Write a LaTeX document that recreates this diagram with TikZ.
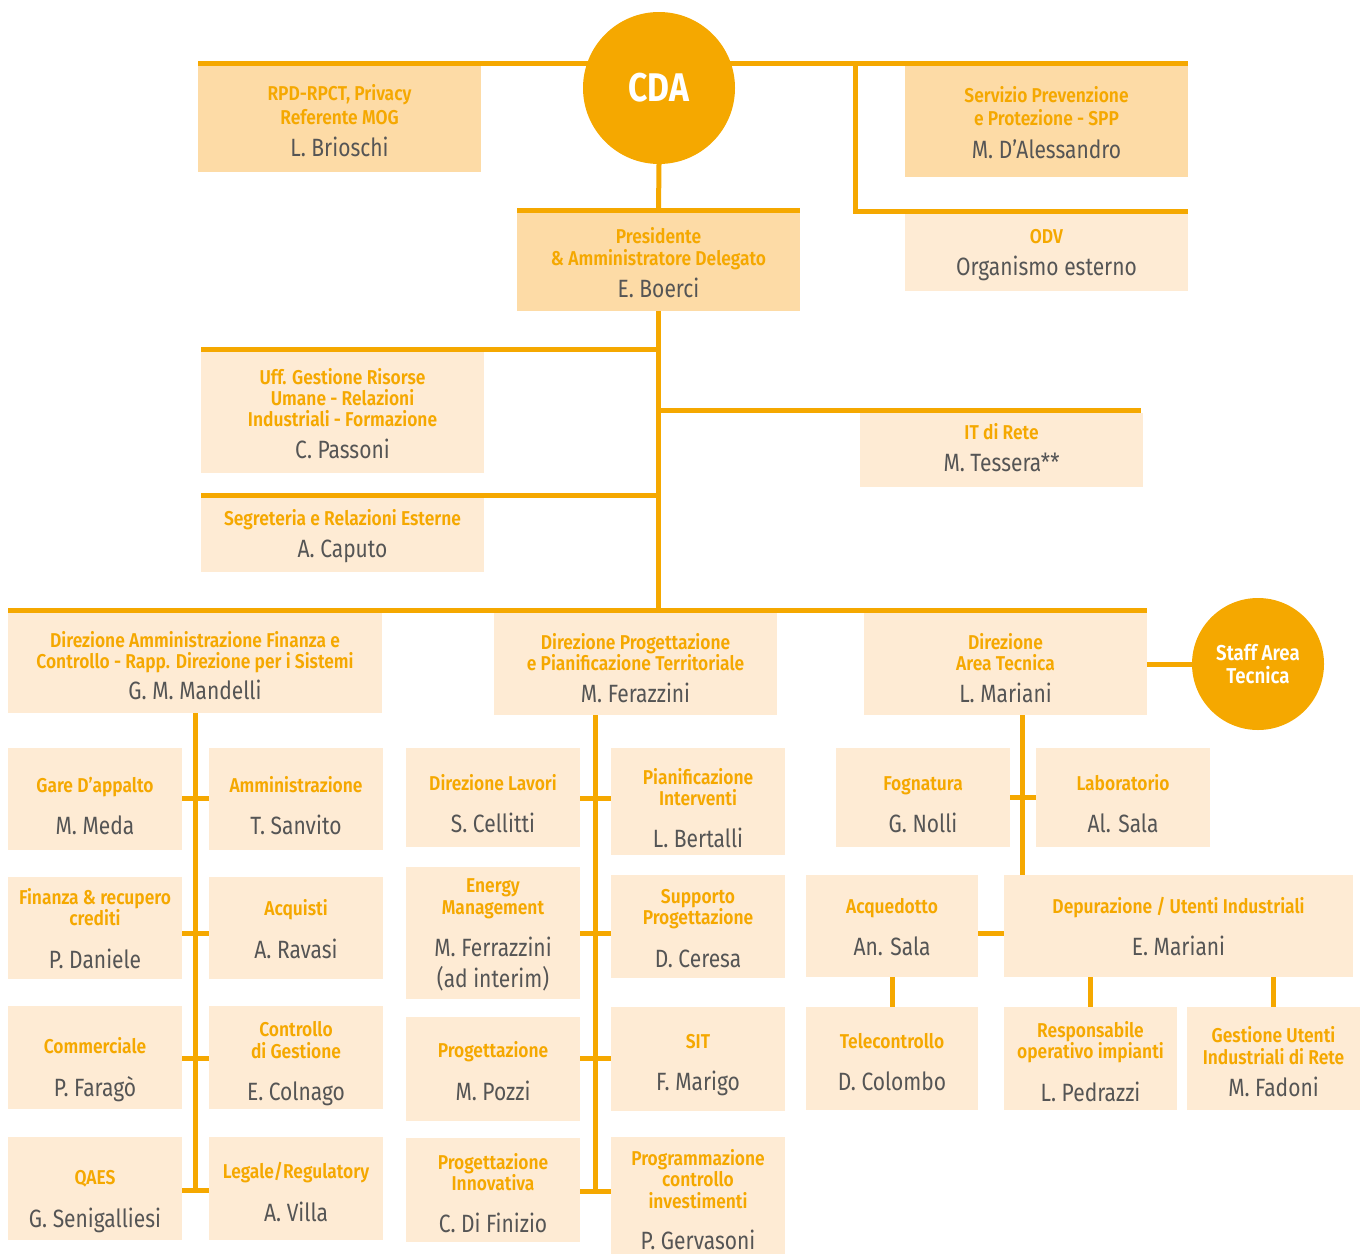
\documentclass[tikz,border=0pt]{standalone}
\usepackage{fontspec}
\setmainfont{Fira Sans}[FakeStretch=0.84]
\newfontfamily\tfont{Fira Sans SemiBold}[FakeStretch=0.87]
\usetikzlibrary{backgrounds}
\definecolor{org}{HTML}{F5A800}
\definecolor{dk}{HTML}{FDDBA6}
\definecolor{lt}{HTML}{FEEBD4}
\definecolor{gr}{HTML}{555555}
\tikzset{
  box/.style={rectangle, draw=none, inner sep=0pt, outer sep=0pt},
  conn/.style={draw=org, line width=5pt},
  ttl/.style={text=org, font=\tfont\fontsize{20}{22}\selectfont, inner sep=0pt, anchor=base},
  nme/.style={text=gr, font=\fontsize{25}{30}\selectfont, inner sep=0pt, anchor=base},
  circ/.style={circle, fill=org, inner sep=0pt, text=white, align=center}
}
\newcounter{tcnt}
\newcommand\T[3]{\stepcounter{tcnt}\node[ttl] (t\arabic{tcnt}) at (#1,-#2) {#3};}
\newcommand\N[3]{\stepcounter{tcnt}\node[nme] (t\arabic{tcnt}) at (#1,-#2) {#3};}
\newcommand\bx[6]{\node[box,fill=#6,minimum width={(#4-#2)*1pt},minimum height={(#5-#3)*1pt}] (#1) at ({(#2+#4)/2},{-(#3+#5)/2}) {};}
\begin{document}
\begin{tikzpicture}[x=1pt,y=1pt]
\useasboundingbox (0,0) rectangle (1365,-1253);
\clip (0,0) rectangle (1365,-1253);
% ---------- top ----------
\bx{rpd}{198}{66}{481}{172}{dk}
\T{339.5}{100}{RPD-RPCT, Privacy}
\T{339.5}{124}{Referente MOG}
\N{339.5}{156}{L. Brioschi}
\node[circ, minimum size=152pt, font=\bfseries\fontsize{40}{44}\selectfont] (cda) at (659,-88) {CDA};
\bx{spp}{905}{66}{1188}{177}{dk}
\T{1046.5}{102}{Servizio Prevenzione}
\T{1046.5}{125}{e Protezione - SPP}
\N{1046.5}{158}{M. D’Alessandro}
\bx{pres}{517}{213}{800}{311}{dk}
\T{658.5}{243}{Presidente}
\T{658.5}{265}{\& Amministratore Delegato}
\N{658.5}{297}{E. Boerci}
\bx{odv}{905}{214}{1188}{291}{lt}
\T{1046.5}{243}{ODV}
\N{1046.5}{275}{Organismo esterno}
\bx{uff}{201}{352}{484}{473}{lt}
\T{342.5}{384}{Uff. Gestione Risorse}
\T{342.5}{405}{Umane - Relazioni}
\T{342.5}{426}{Industriali - Formazione}
\N{342.5}{458}{C. Passoni}
\bx{it}{860}{413}{1143}{487}{lt}
\T{1001.5}{439}{IT di Rete}
\N{1001.5}{471}{M. Tessera**}
\bx{seg}{201}{498}{484}{572}{lt}
\T{342.5}{525}{Segreteria e Relazioni Esterne}
\N{342.5}{557}{A. Caputo}
% ---------- directions ----------
\bx{dirA}{8}{613}{382}{713}{lt}
\T{195}{647}{Direzione Amministrazione Finanza e}
\T{195}{668}{Controllo - Rapp. Direzione per i Sistemi}
\N{195}{699}{G. M. Mandelli}
\bx{dirB}{494}{613}{777}{715}{lt}
\T{635.5}{649}{Direzione Progettazione}
\T{635.5}{670}{e Pianificazione Territoriale}
\N{635.5}{702}{M. Ferazzini}
\bx{dirC}{864}{613}{1147}{715}{lt}
\T{1005.5}{649}{Direzione}
\T{1005.5}{670}{Area Tecnica}
\N{1005.5}{702}{L. Mariani}
\node[circ, minimum size=132pt, font=\tfont\fontsize{21.5}{23}\selectfont] (staff) at (1258,-664) {Staff Area\\Tecnica};
% ---------- column A ----------
\bx{ga}{8}{748}{182}{850}{lt}
\T{95}{792}{Gare D’appalto}
\N{95}{834}{M. Meda}
\bx{am}{209}{748}{383}{850}{lt}
\T{296}{792}{Amministrazione}
\N{296}{834}{T. Sanvito}
\bx{fin}{8}{877}{182}{979}{lt}
\T{95}{904}{Finanza \& recupero}
\T{95}{925}{crediti}
\N{95}{968}{P. Daniele}
\bx{acqu}{209}{877}{383}{979}{lt}
\T{296}{915}{Acquisti}
\N{296}{958}{A. Ravasi}
\bx{com}{8}{1006}{182}{1109}{lt}
\T{95}{1053}{Commerciale}
\N{95}{1096}{P. Faragò}
\bx{cdg}{209}{1006}{383}{1109}{lt}
\T{296}{1036}{Controllo}
\T{296}{1058}{di Gestione}
\N{296}{1100}{E. Colnago}
\bx{qa}{8}{1137}{182}{1240}{lt}
\T{95}{1184}{QAES}
\N{95}{1227}{G. Senigalliesi}
\bx{leg}{209}{1137}{383}{1240}{lt}
\T{296}{1178}{Legale/Regulatory}
\N{296}{1221}{A. Villa}
% ---------- column B ----------
\bx{dl}{406}{748}{580}{847}{lt}
\T{493}{790}{Direzione Lavori}
\N{493}{832}{S. Cellitti}
\bx{pi}{611}{748}{785}{855}{lt}
\T{698}{784}{Pianificazione}
\T{698}{805}{Interventi}
\N{698}{847}{L. Bertalli}
\bx{em}{406}{867}{580}{999}{lt}
\T{493}{892}{Energy}
\T{493}{914}{Management}
\N{493}{956}{M. Ferrazzini}
\N{493}{987}{(ad interim)}
\bx{sp}{611}{875}{785}{978}{lt}
\T{698}{903}{Supporto}
\T{698}{924}{Progettazione}
\N{698}{967}{D. Ceresa}
\bx{pr}{406}{1017}{580}{1121}{lt}
\T{493}{1057}{Progettazione}
\N{493}{1100}{M. Pozzi}
\bx{sit}{611}{1007}{785}{1111}{lt}
\T{698}{1048}{SIT}
\N{698}{1090}{F. Marigo}
\bx{pin}{406}{1138}{580}{1242}{lt}
\T{493}{1169}{Progettazione}
\T{493}{1190}{Innovativa}
\N{493}{1232}{C. Di Finizio}
\bx{pci}{611}{1137}{785}{1265}{lt}
\T{698}{1165}{Programmazione}
\T{698}{1186}{controllo}
\T{698}{1208}{investimenti}
\N{698}{1249}{P. Gervasoni}
% ---------- column C ----------
\bx{fog}{836}{748}{1010}{847}{lt}
\T{923}{790}{Fognatura}
\N{923}{832}{G. Nolli}
\bx{lab}{1036}{748}{1210}{847}{lt}
\T{1123}{790}{Laboratorio}
\N{1123}{832}{Al. Sala}
\bx{aqd}{806}{875}{978}{977}{lt}
\T{892}{913}{Acquedotto}
\N{892}{955}{An. Sala}
\bx{dep}{1004}{875}{1353}{977}{lt}
\T{1178.5}{913}{Depurazione / Utenti Industriali}
\N{1178.5}{955}{E. Mariani}
\bx{tel}{806}{1007}{978}{1110}{lt}
\T{892}{1048}{Telecontrollo}
\N{892}{1090}{D. Colombo}
\bx{resp}{1004}{1007}{1177}{1110}{lt}
\T{1090.5}{1037}{Responsabile}
\T{1090.5}{1058}{operativo impianti}
\N{1090.5}{1101}{L. Pedrazzi}
\bx{gest}{1187}{1007}{1360}{1110}{lt}
\T{1273.5}{1042}{Gestione Utenti}
\T{1273.5}{1064}{Industriali di Rete}
\N{1273.5}{1096}{M. Fadoni}
% ---------- connectors ----------
\begin{scope}[on background layer]
\draw[conn] ([yshift=2.5pt]rpd.north west) -- ([yshift=2.5pt]spp.north east);
\draw[conn] (cda.south) -- ([yshift=2.5pt]pres.north);
\draw[conn] ([yshift=2.5pt]pres.north west) -- ([yshift=2.5pt]pres.north east);
\coordinate (rb) at (855,-63.5);
\draw[conn] (rb) |- ([yshift=2.5pt]odv.north east);
\coordinate (mainL) at ([yshift=2.5pt]dirA.north west);
\coordinate (mainR) at ([yshift=2.5pt]dirC.north east);
\draw[conn] (mainL) -- (mainR);
\draw[conn] (pres.south) -- (pres.south |- mainL);
\coordinate (uffL) at ([yshift=2.5pt]uff.north west);
\draw[conn] (uffL) -- (uffL -| pres.south);
\coordinate (segL) at ([yshift=2.5pt]seg.north west);
\draw[conn] (segL) -- (segL -| pres.south);
\coordinate (itR) at ([xshift=-2pt,yshift=2.5pt]it.north east);
\draw[conn] (itR -| pres.south) -- (itR);
% column A
\coordinate (yA1) at (0,-798);
\coordinate (yA2) at (0,-933);
\coordinate (yA3) at (0,-1058);
\coordinate (yA4) at (0,-1190);
\draw[conn] (dirA.south) -- (dirA.south |- yA4);
\draw[conn] (ga.east |- yA1) -- (am.west |- yA1);
\draw[conn] (fin.east |- yA2) -- (acqu.west |- yA2);
\draw[conn] (com.east |- yA3) -- (cdg.west |- yA3);
\draw[conn] (qa.east |- yA4) -- (leg.west |- yA4);
% column B
\coordinate (vB) at (595.5,0);
\coordinate (yB1) at (0,-798);
\coordinate (yB2) at (0,-933);
\coordinate (yB3) at (0,-1058);
\coordinate (yB4) at (0,-1191);
\draw[conn] (vB |- dirB.south) -- (vB |- yB4);
\draw[conn] (dl.east |- yB1) -- (pi.west |- yB1);
\draw[conn] (em.east |- yB2) -- (sp.west |- yB2);
\draw[conn] (pr.east |- yB3) -- (sit.west |- yB3);
\draw[conn] (pin.east |- yB4) -- (pci.west |- yB4);
% column C
\coordinate (vC) at (1022,0);
\coordinate (yC) at (0,-933);
\draw[conn] (vC |- dirC.south) -- (vC |- dep.north);
\draw[conn] (fog.east) -- (lab.west);
\draw[conn] (aqd.east |- yC) -- (dep.west |- yC);
\draw[conn] (aqd.south) -- (tel.north);
\draw[conn] (resp.north) -- (resp.north |- dep.south);
\draw[conn] (gest.north) -- (gest.north |- dep.south);
\draw[conn] (dirC.east) -- (staff.west);
\end{scope}
\end{tikzpicture}
\end{document}
